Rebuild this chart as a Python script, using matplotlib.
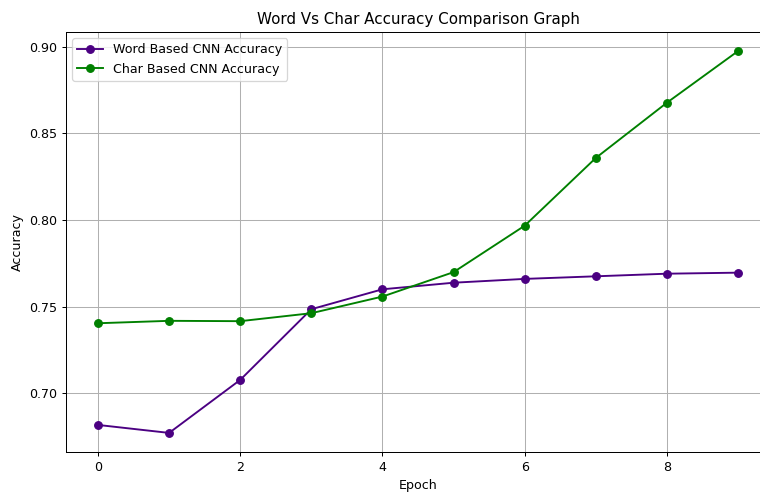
import matplotlib
matplotlib.use("Agg")
import matplotlib.pyplot as plt

# epochs and accuracies
epochs = list(range(10))
word_acc = [0.6817, 0.6771, 0.7077, 0.7485, 0.7600, 0.7638, 0.7660, 0.7675, 0.7690, 0.7696]
char_acc = [0.7404, 0.7418, 0.7416, 0.7462, 0.7558, 0.7699, 0.7967, 0.8358, 0.8677, 0.8975]

# the original looks rendered at a slightly lower dpi, so shrink everything a bit
DPI = 91
fig = plt.figure(figsize=(760 / DPI, 493 / DPI), dpi=DPI)
# axes runs a bit past the right edge, like the cropped original
ax = fig.add_axes([66 / 760, 1 - 452 / 493, (770 - 66) / 760, (452 - 32) / 493])

ax.plot(epochs, word_acc, marker="o", color="indigo", label="Word Based CNN Accuracy")
ax.plot(epochs, char_acc, marker="o", color="green", label="Char Based CNN Accuracy")

ax.set_title("Word Vs Char Accuracy Comparison Graph")
ax.set_xlabel("Epoch")
ax.set_ylabel("Accuracy")
ax.grid(True)
ax.legend(loc="upper left")

fig.savefig("out.png", dpi=DPI)
